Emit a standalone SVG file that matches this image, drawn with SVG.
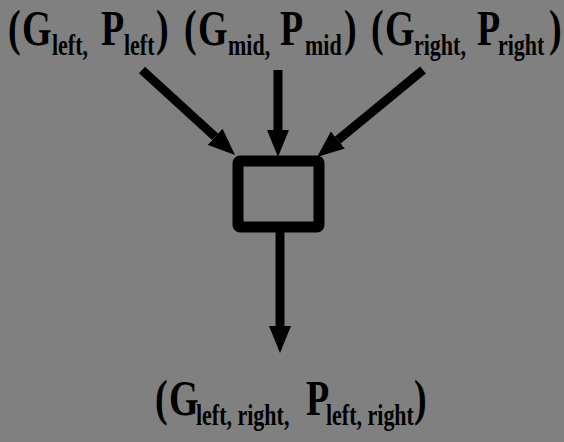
<svg xmlns="http://www.w3.org/2000/svg" width="564" height="442" viewBox="0 0 564 442">
<defs>
<style>
.m{font-family:"Liberation Serif","Times New Roman",serif;font-weight:bold;font-size:38px;fill:#000}
.s{font-family:"Liberation Serif","Times New Roman",serif;font-weight:bold;font-size:22px;fill:#000}
.ln{stroke:#000;stroke-width:9;fill:none}
</style>
<marker id="ah" viewBox="0 0 27 22" refX="0" refY="11" markerWidth="27" markerHeight="22" markerUnits="userSpaceOnUse" orient="auto">
<path d="M0,0 L27,11 L0,22 Z" fill="#000"/>
</marker>
</defs>
<rect width="564" height="442" fill="#808080"/>
<g id="label-left" transform="translate(0,45) scale(1,1.35)">
<text class="m" x="8" y="0">(</text><text class="m" x="22" y="0">G</text><text class="s" x="52" y="7.4">left,</text><text class="m" x="101" y="0">P</text><text class="s" x="124" y="7.4">left</text><text class="m" x="156" y="0">)</text>
</g>
<g id="label-mid" transform="translate(0,45) scale(1,1.35)">
<text class="m" x="184" y="0">(</text><text class="m" x="198" y="0">G</text><text class="s" x="228" y="7.4">mid,</text><text class="m" x="280" y="0">P</text><text class="s" x="305" y="7.4">mid</text><text class="m" x="344" y="0">)</text>
</g>
<g id="label-right" transform="translate(0,45) scale(1,1.35)">
<text class="m" x="371" y="0">(</text><text class="m" x="385" y="0">G</text><text class="s" x="414" y="7.4">right,</text><text class="m" x="477" y="0">P</text><text class="s" x="498" y="7.4">right</text><text class="m" x="549" y="0">)</text>
</g>
<g id="box">
<rect x="238" y="161" width="81" height="66" rx="2" fill="none" stroke="#000" stroke-width="11"/>
</g>
<g id="label-bottom" transform="translate(0,415) scale(1,1.35)">
<text class="m" x="155" y="0">(</text><text class="m" x="169" y="0">G</text><text class="s" x="196" y="7.4">left, right,</text><text class="m" x="306" y="0">P</text><text class="s" x="326" y="7.4">left, right</text><text class="m" x="414" y="0">)</text>
</g>
<g id="connectors">
<line class="ln" x1="142" y1="70" x2="215.1" y2="136.8" marker-end="url(#ah)"/>
<line class="ln" x1="278" y1="70" x2="278" y2="130" marker-end="url(#ah)"/>
<line class="ln" x1="423" y1="70" x2="337.9" y2="139.9" marker-end="url(#ah)"/>
<line class="ln" x1="280" y1="232" x2="280" y2="326" marker-end="url(#ah)"/>
</g>
</svg>
